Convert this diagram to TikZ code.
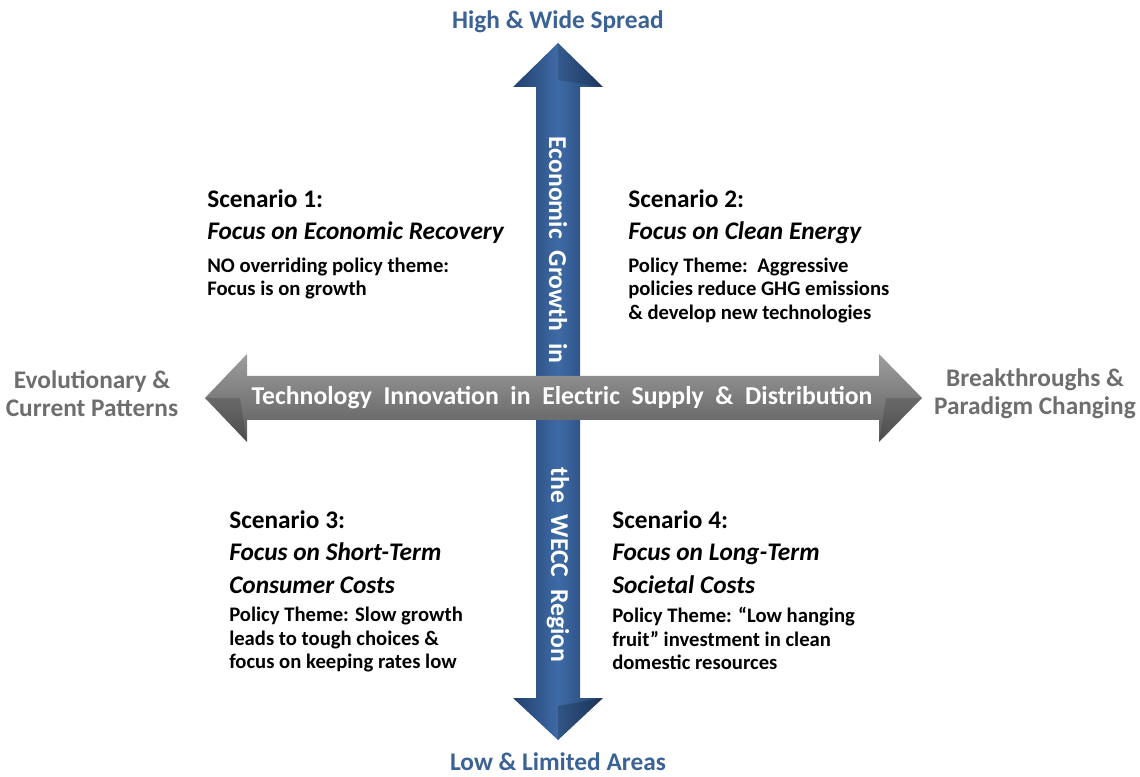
\documentclass[tikz,border=0pt]{standalone}
\usepackage{fontspec}
\setmainfont{Carlito}
\usetikzlibrary{positioning}
\definecolor{axisblue}{HTML}{3B6294}
\definecolor{axisgrey}{HTML}{6E6E6E}
\definecolor{shaftblue}{HTML}{3E6BA6}
\definecolor{edgeblue}{HTML}{213F6C}
\definecolor{greytop}{HTML}{9E9E9E}
\definecolor{greybot}{HTML}{5A5A5A}

\begin{document}
\begin{tikzpicture}[x=0.75pt, y=-0.75pt,
    endlabel/.style={font=\fontsize{19}{22}\selectfont\bfseries, text=axisblue, inner sep=0pt},
    sidelabel/.style={font=\fontsize{19}{21}\selectfont\bfseries, text=axisgrey, align=center, inner sep=0pt},
    axistext/.style={font=\fontsize{19.3}{21}\selectfont\bfseries, text=white, inner sep=0pt},
    heading/.style={font=\fontsize{19}{24.5}\selectfont\bfseries, align=left, inner sep=0pt, anchor=north west},
    theme/.style={font=\fontsize{15.5}{17.5}\selectfont\bfseries, align=left, inner sep=0pt}]
\useasboundingbox (0,0) rectangle (1140,777);
% North to South arrow
    \shade[left color=edgeblue, right color=edgeblue, middle color=shaftblue]
        (536,87) -- (513,87) -- (558,43) -- (603,87) -- (580,87) -- (580,698)
        -- (603,698) -- (558,740) -- (513,698) -- (536,698) -- cycle;
    \fill[black, opacity=0.15] (558,43) -- (603,87) -- (558,80) -- cycle;
    \fill[black, opacity=0.2] (558,740) -- (603,698) -- (558,706) -- cycle;
% West to East arrow
    \shade[top color=greytop, bottom color=greybot]
        (247,376) -- (247,354) -- (205,398) -- (247,442) -- (247,420) -- (879,420)
        -- (879,442) -- (922,398) -- (879,354) -- (879,376) -- cycle;
    \fill[black, opacity=0.15] (205,398) -- (247,442) -- (240,398) -- cycle;
    \fill[black, opacity=0.15] (922,398) -- (879,442) -- (886,398) -- cycle;
% texts on the arrows
    \node[axistext] (techtext) at (562,398) {Technology\ \ Innovation\ \ in\ \ Electric\ \ Supply\ \ \&\ \ Distribution};
    \node[axistext, rotate=-90] (growthtext) at (558,250) {Economic\ \ Growth\ \ in};
    \node[axistext, rotate=-90] (regiontext) at (558,565) {the\ \ WECC\ \ Region};
% ends of the axes
    \node[endlabel] (high) at (558,22) {High \& Wide Spread};
    \node[endlabel] (low) at (558,762) {Low \& Limited Areas};
    \node[sidelabel] (evolve) at (92,394) {Evolutionary \&\\Current Patterns};
    \node[sidelabel] (breakthrough) at (1035,394) {Breakthroughs \&\\Paradigm Changing};
% scenarios
    \node[heading] (s1head) at (207,189) {Scenario 1:\\\textit{Focus on Economic Recovery}};
    \node[theme, below=10pt of s1head.south west, anchor=north west] (s1theme)
        {NO overriding policy theme:\\Focus is on growth};
    \node[heading] (s2head) at (628,189) {Scenario 2:\\\textit{Focus on Clean Energy}};
    \node[theme, below=10pt of s2head.south west, anchor=north west] (s2theme)
        {Policy Theme:\ \ Aggressive\\policies reduce GHG emissions\\\& develop new technologies};
    \node[heading] (s3head) at (229,510) {Scenario 3:\\\textit{Focus on Short-Term}\\\textit{Consumer Costs}};
    \node[theme, below=10pt of s3head.south west, anchor=north west] (s3theme)
        {Policy Theme: Slow growth\\leads to tough choices \&\\focus on keeping rates low};
    \node[heading] (s4head) at (612,510) {Scenario 4:\\\textit{Focus on Long-Term}\\\textit{Societal Costs}};
    \node[theme, below=10pt of s4head.south west, anchor=north west] (s4theme)
        {Policy Theme: “Low hanging\\fruit” investment in clean\\domestic resources};
\end{tikzpicture}
\end{document}
